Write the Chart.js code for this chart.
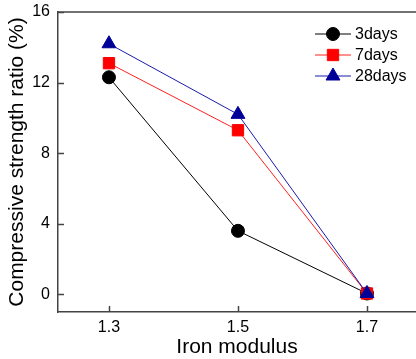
<!DOCTYPE html>
<html>
<head>
<meta charset="utf-8">
<script src="https://cdn.jsdelivr.net/npm/chart.js@4.4.0/dist/chart.umd.min.js"></script>
<style>
  html, body { margin: 0; padding: 0; background: #fff; }
  #wrap { width: 416px; height: 359px; }
</style>
</head>
<body>
<div id="wrap"><canvas id="myChart" width="416" height="359"></canvas></div>
<script>
// values
var ironModulus = [1.3, 1.5, 1.7];
var days3 = [12.3, 3.6, 0.05];
var days7 = [13.1, 9.3, 0.05];
var days28 = [14.2, 10.2, 0.05];
var xTicks = [1.3, 1.5, 1.7];
var yTicks = [0, 4, 8, 12, 16];

function pts(ys) {
  return ironModulus.map(function (x, i) { return { x: x, y: ys[i] }; });
}

var axisColor = '#444';
var fontFam = '"Liberation Sans", Arial, sans-serif';

// draws inward tick marks, the top frame line and the line+marker legend
var framePlugin = {
  id: 'frame',
  afterDraw: function (chart) {
    var ctx = chart.ctx;
    var a = chart.chartArea;
    var xs = chart.scales.x, ys = chart.scales.y;
    ctx.save();
    ctx.strokeStyle = axisColor;
    ctx.lineWidth = 1.5;
    ctx.beginPath();
    ctx.moveTo(a.left, a.top);
    ctx.lineTo(a.right, a.top);
    xTicks.forEach(function (v) {
      var px = Math.round(xs.getPixelForValue(v)) + 0.5;
      ctx.moveTo(px, a.bottom);
      ctx.lineTo(px, a.bottom - 6);
    });
    yTicks.forEach(function (v) {
      var py = Math.round(ys.getPixelForValue(v)) + 0.5;
      ctx.moveTo(a.left, py);
      ctx.lineTo(a.left + 6, py);
    });
    ctx.stroke();

    // legend
    var rowY = [34, 55, 76];
    chart.data.datasets.forEach(function (ds, i) {
      var y = rowY[i];
      ctx.strokeStyle = ds.borderColor;
      ctx.lineWidth = 1;
      ctx.beginPath();
      ctx.moveTo(315, y);
      ctx.lineTo(351, y);
      ctx.stroke();
      ctx.fillStyle = ds.pointBackgroundColor;
      ctx.strokeStyle = ds.pointBackgroundColor;
      Chart.helpers.drawPoint(ctx, {
        pointStyle: ds.pointStyle,
        radius: ds.pointRadius,
        borderWidth: 1
      }, 333, y);
      ctx.fillStyle = '#000';
      ctx.font = '16px ' + fontFam;
      ctx.textBaseline = 'middle';
      ctx.textAlign = 'left';
      ctx.fillText(ds.label, 355, y + 1);
    });
    ctx.restore();
  }
};

new Chart(document.getElementById('myChart'), {
  type: 'line',
  data: {
    datasets: [{
      label: '3days',
      data: pts(days3),
      borderColor: '#000',
      borderWidth: 1,
      pointStyle: 'circle',
      pointRadius: 6.5,
      pointBackgroundColor: '#000',
      pointBorderColor: '#000',
      order: 2
    }, {
      label: '7days',
      data: pts(days7),
      borderColor: '#ff2020',
      borderWidth: 1,
      pointStyle: 'rect',
      pointRadius: 8,
      pointBackgroundColor: '#ff0000',
      pointBorderColor: '#ff0000',
      order: 1
    }, {
      label: '28days',
      data: pts(days28),
      borderColor: '#1a1aaa',
      borderWidth: 1,
      pointStyle: 'triangle',
      pointRadius: 8,
      pointBackgroundColor: '#000099',
      pointBorderColor: '#000099',
      order: 0
    }]
  },
  options: {
    responsive: false,
    animation: false,
    layout: { autoPadding: false, padding: { top: 12, right: 0, left: 0, bottom: 0 } },
    plugins: {
      legend: { display: false },
      tooltip: { enabled: false }
    },
    scales: {
      x: {
        type: 'linear',
        min: 1.221,
        max: 1.776,
        afterBuildTicks: function (s) { s.ticks = xTicks.map(function (v) { return { value: v }; }); },
        afterFit: function (s) { s.height = 47; s.paddingLeft = 0; s.paddingRight = 0; },
        grid: { display: false, drawTicks: false },
        border: { display: true, color: axisColor, width: 1.5 },
        ticks: {
          padding: 6,
          color: '#000',
          font: { family: fontFam, size: 16 },
          callback: function (v) { return v.toFixed(1); }
        },
        title: {
          display: true,
          text: 'Iron modulus',
          color: '#000',
          padding: { top: 0, bottom: -1 },
          font: { family: fontFam, size: 21 }
        }
      },
      y: {
        min: -1,
        max: 16,
        afterBuildTicks: function (s) { s.ticks = yTicks.map(function (v) { return { value: v }; }); },
        afterFit: function (s) { s.width = 58; s.paddingTop = 0; s.paddingBottom = 0; },
        grid: { display: false, drawTicks: false },
        border: { display: true, color: axisColor, width: 1.5 },
        ticks: {
          padding: 8,
          color: '#000',
          font: { family: fontFam, size: 16 }
        },
        title: {
          display: true,
          text: 'Compressive strength ratio (%)',
          color: '#000',
          padding: { top: 5, bottom: 0 },
          font: { family: fontFam, size: 21 }
        }
      }
    }
  },
  plugins: [framePlugin]
});
</script>
</body>
</html>
